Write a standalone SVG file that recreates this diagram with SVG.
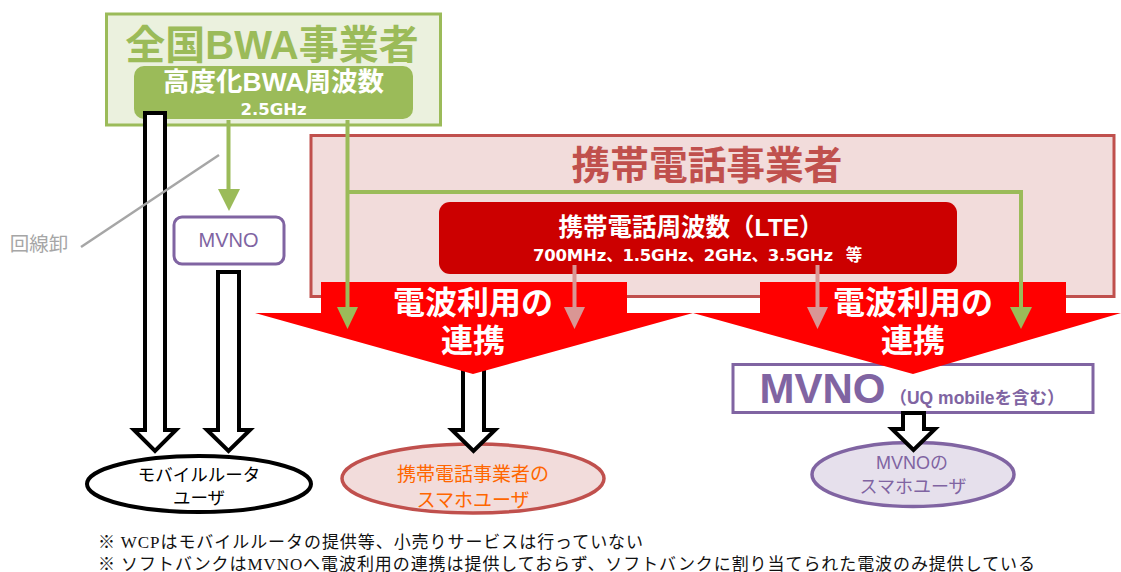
<svg xmlns="http://www.w3.org/2000/svg" width="1121" height="572" viewBox="0 0 1121 572">
<style>
text{font-family:"Liberation Sans","Noto Sans CJK JP",sans-serif;text-anchor:middle}
.b{font-weight:700}
.d{font-family:"DejaVu Sans","Noto Sans CJK JP",sans-serif;font-weight:700;font-size:16.500px;fill:#fff}
.s{font-family:"Liberation Serif","Noto Sans CJK JP",serif;text-anchor:start;font-size:17px;fill:#111}
.fat{fill:#fff;stroke:#000;stroke-width:4;stroke-miterlimit:10}
.g{fill:none;stroke:#9bbb59;stroke-width:4}
.p{fill:none;stroke:#d99694;stroke-width:4}
.gh{fill:#9bbb59}
.ph{fill:#d99694}
.w{fill:#fff}
.red{fill:#f00}
</style>
<g id="carrier-box"><rect x="311" y="135.500" width="803" height="161" fill="#f2dcdb" stroke="#c0504d" stroke-width="3"/><text x="707" y="179" class="b" font-size="38.700" fill="#c0504d">携帯電話事業者</text></g>
<g id="lte-band"><rect x="439" y="202" width="518" height="72" rx="11" fill="#c00"/><text x="691" y="236" class="b w" font-size="24.500">携帯電話周波数（LTE）</text><text x="683" y="261" class="d" textLength="300">700MHz、1.5GHz、2GHz、3.5GHz</text><text x="854" y="261" class="d">等</text></g>
<g id="bwa-box"><rect x="106.500" y="14" width="334" height="111" fill="#ebf1de" stroke="#9bbb59" stroke-width="3"/><text x="272" y="59" class="b" font-size="40" fill="#9bbb59">全国BWA事業者</text></g>
<g id="bwa-band"><rect x="134" y="66" width="279" height="53" rx="10" fill="#9bbb59"/><text x="273.500" y="91" class="b w" font-size="26.500">高度化BWA周波数</text><text x="273.500" y="115" class="d">2.5GHz</text></g>
<g id="mvno-big"><rect x="733" y="364.500" width="360" height="48" fill="#fff" stroke="#8064a2" stroke-width="3"/><text x="822.500" y="403" class="b" font-size="42" fill="#8064a2">MVNO</text><text x="977" y="404" class="b" font-size="17.500" fill="#8064a2">（UQ mobileを含む）</text></g>
<g id="router-users"><ellipse cx="199" cy="484" rx="112" ry="28" fill="#fff" stroke="#000" stroke-width="4"/><text x="199" y="481" font-size="17.500">モバイルルータ</text><text x="199" y="504" font-size="17.500">ユーザ</text></g>
<g id="carrier-users"><ellipse cx="473" cy="478.500" rx="131" ry="34.500" fill="#f2dcdb" stroke="#c0504d" stroke-width="3.500"/><text x="473" y="481" font-size="19" fill="#f60">携帯電話事業者の</text><text x="473" y="507" font-size="19" fill="#f60">スマホユーザ</text></g>
<g id="mvno-users"><ellipse cx="913" cy="474.500" rx="101" ry="32" fill="#e6e0ec" stroke="#8064a2" stroke-width="3.500"/><text x="912" y="469" font-size="18" fill="#8064a2">MVNOの</text><text x="913" y="493" font-size="18" fill="#8064a2">スマホユーザ</text></g>
<g id="connectors">
<path class="fat" d="M145 113H165V430H176L155 451L134 430H145Z"/>
<path class="fat" d="M218 272H239V430H250L228.500 451L207 430H218Z"/>
<path class="fat" d="M463 360H484V430H495L473.500 451L452 430H463Z"/>
<path class="fat" d="M903 413H924V429H935L913.500 450L892 429H903Z"/>
</g>
<g id="link-left" class="red"><path d="M321 282H627V313H693L473 374L255 313H321Z"/><text x="473" y="314" class="b w" font-size="32">電波利用の</text><text x="473" y="352" class="b w" font-size="32">連携</text></g>
<g id="link-right" class="red"><path d="M760 282H1066V313H1121L913 374L693 313H760Z"/><text x="913" y="314" class="b w" font-size="32">電波利用の</text><text x="913" y="352" class="b w" font-size="32">連携</text></g>
<g id="feeds">
<path class="g" d="M228.500 120V190"/><path class="gh" d="M218 189H240L229 211Z"/>
<path class="g" d="M347.500 120V308M347.500 192H1021V308"/><path class="gh" d="M337 307H358L347.500 329Z"/><path class="gh" d="M1010 307H1032L1021 329Z"/>
<path class="p" d="M574.500 265V308"/><path class="ph" d="M564 307H585L574.500 329Z"/>
<path class="p" d="M817.500 265V308"/><path class="ph" d="M807 307H828L817.500 329Z"/>
<path d="M81 247L219 155" fill="none" stroke="#a6a6a6" stroke-width="2.500"/>
</g>
<g id="wholesale"><text x="39" y="251" font-size="19.500" fill="#a6a6a6">回線卸</text></g>
<g id="mvno-small"><rect x="174" y="217" width="110" height="47" rx="8" fill="#fff" stroke="#8064a2" stroke-width="3"/><text x="228.500" y="247" font-size="20" fill="#8064a2">MVNO</text></g>
<g id="notes"><text x="98" y="548" class="s" textLength="545">※ WCPはモバイルルータの提供等、小売りサービスは行っていない</text><text x="98" y="570" class="s" textLength="937">※ ソフトバンクはMVNOへ電波利用の連携は提供しておらず、ソフトバンクに割り当てられた電波のみ提供している</text></g>
</svg>
